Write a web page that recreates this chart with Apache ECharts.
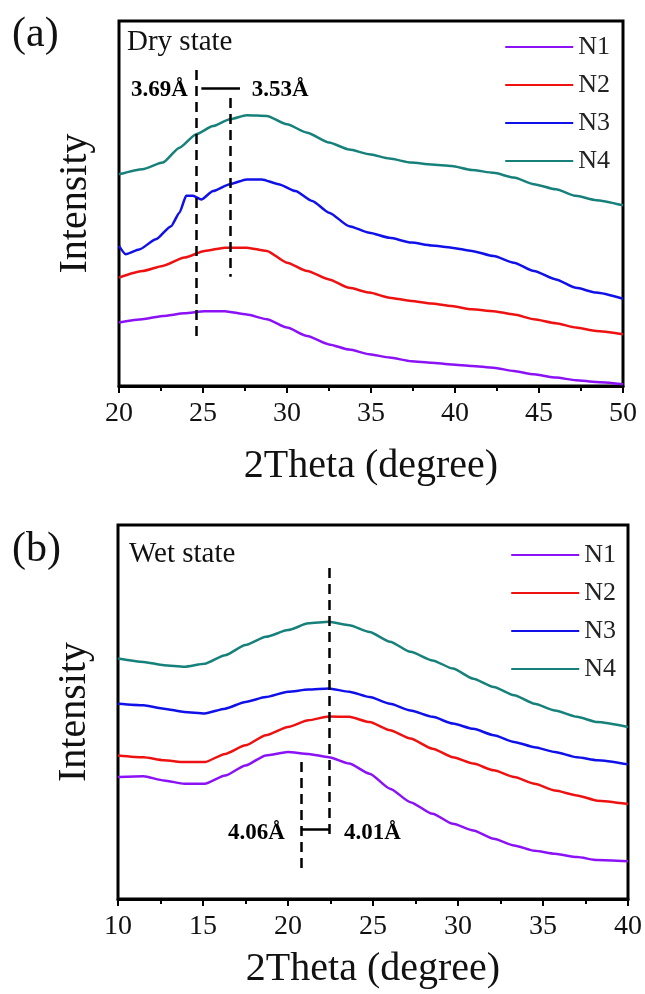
<!DOCTYPE html>
<html>
<head>
<meta charset="utf-8">
<script src="https://cdn.jsdelivr.net/npm/echarts@6/dist/echarts.min.js"></script>
<style>
  html, body { margin: 0; padding: 0; background: #fff; }
  #chart { width: 645px; height: 994px; }
</style>
</head>
<body>
<div id="chart"></div>
<script>
// ---- data (intensity is arbitrary, 0..100) ----
const names = ["N1", "N2", "N3", "N4"];
const colors = ["#8a12f5", "#ee1111", "#1010e8", "#16807a"];

// (a) dry state
const dryX = [20, 21.4, 22.6, 23.9, 25.1, 26.3, 27.6, 28.8, 30, 31.2, 32.5, 33.7, 34.9, 36.1, 37.4, 38.6, 39.8, 41, 42.3, 43.5, 44.7, 46, 47.2, 48.4, 50];
const dryN1 = [17.4, 18.3, 19.2, 19.9, 20.5, 20.5, 19.6, 18.3, 16.0, 13.7, 11.4, 10.0, 8.7, 7.8, 6.8, 6.4, 5.9, 5.5, 5.0, 4.1, 3.2, 2.3, 1.6, 1.1, 0.5];
const dryN2 = [29.7, 31.5, 32.9, 35.2, 37.0, 37.9, 37.9, 37.0, 33.8, 31.5, 29.2, 26.9, 25.6, 24.2, 23.3, 22.6, 21.9, 21.0, 20.5, 19.6, 18.3, 17.2, 16.0, 15.1, 14.2];
const dryN3X = [20, 20.4, 21.2, 22.2, 23.1, 23.6, 24.0, 24.4, 24.9, 25.6, 26.6, 27.6, 28.5, 29.5, 30.5, 31.5, 32.5, 33.7, 34.9, 36.1, 37.4, 38.6, 39.8, 41, 42.3, 43.5, 44.7, 46, 47.2, 48.4, 50];
const dryN3 = [38.4, 36.1, 37.4, 40.2, 43.8, 47.5, 52.1, 52.1, 51.1, 53.4, 55.3, 56.6, 56.6, 55.3, 53.4, 50.7, 47.5, 43.8, 42.0, 40.6, 39.3, 38.5, 37.9, 37.0, 35.6, 33.8, 31.5, 29.2, 26.9, 25.6, 23.9];
const dryN4X = [20, 21.4, 22.6, 23.6, 24.6, 25.6, 26.6, 27.6, 28.8, 30, 31.2, 32.5, 33.7, 34.9, 36.1, 37.4, 38.6, 39.8, 41, 42.3, 43.5, 44.7, 46, 47.2, 48.4, 50];
const dryN4 = [58.0, 59.4, 61.2, 65.3, 69.0, 71.2, 73.1, 74.2, 74.0, 71.7, 69.4, 66.7, 64.8, 63.5, 62.3, 61.2, 60.7, 60.3, 59.2, 58.4, 57.1, 55.3, 53.9, 52.1, 50.9, 49.5];

// (b) wet state
const wetX = [10, 11.5, 12.7, 13.9, 15.1, 16.3, 17.5, 18.7, 20, 21.2, 22.4, 23.6, 24.8, 26, 27.2, 28.5, 29.7, 30.9, 32.1, 33.3, 34.5, 35.7, 37, 38.2, 40];
const wetN1 = [32.6, 32.8, 31.7, 30.8, 30.8, 33.0, 35.7, 38.4, 39.3, 38.8, 37.9, 36.2, 33.5, 29.5, 25.9, 22.8, 20.1, 18.3, 16.1, 14.3, 12.9, 12.1, 11.2, 10.4, 10.1];
const wetN2 = [38.4, 37.9, 37.1, 36.6, 36.6, 38.8, 41.1, 43.8, 46.0, 47.8, 48.8, 48.7, 47.3, 45.1, 42.9, 40.2, 37.9, 36.2, 34.4, 32.6, 30.8, 29.0, 27.7, 26.3, 25.4];
const wetN3 = [52.2, 51.8, 50.9, 50.0, 49.6, 50.9, 52.7, 54.0, 55.4, 56.0, 56.3, 55.4, 54.0, 52.2, 50.4, 48.7, 46.9, 45.5, 43.8, 42.0, 40.6, 39.3, 37.9, 37.1, 36.0];
const wetN4 = [64.3, 63.4, 62.5, 62.1, 62.9, 65.2, 67.9, 70.1, 71.9, 73.7, 74.1, 73.2, 71.4, 68.8, 66.1, 63.8, 61.6, 58.9, 56.7, 54.5, 52.2, 50.4, 48.7, 47.3, 46.0];

const serif = "'Liberation Serif', 'DejaVu Serif', serif";

function pairs(xs, ys) {
  return xs.map((x, i) => [x, ys[i]]);
}

function lineSeries(i, name, xs, ys) {
  return {
    name: name,
    type: "line",
    xAxisIndex: i,
    yAxisIndex: i,
    data: pairs(xs, ys),
    symbol: "none",
    smooth: 0.2,
    smoothMonotone: "x",
    lineStyle: { width: 2.5 },
    color: colors[names.indexOf(name)],
    z: 3,
  };
}

// dashed guide lines + spacing bar + d-spacing labels for one panel
function guideSeries(i, lines, bar, labels) {
  const dashed = { type: [10, 6], width: 2.5, color: "#000" };
  return {
    type: "scatter",
    xAxisIndex: i,
    yAxisIndex: i,
    symbolSize: 0,
    silent: true,
    itemStyle: { opacity: 1 },
    data: labels.map((l) => ({ value: [l[0], l[1]], name: l[2] })),
    label: {
      show: true,
      position: "inside",
      formatter: "{b}",
      fontFamily: serif,
      fontWeight: "bold",
      fontSize: 23,
      color: "#000",
      opacity: 1,
    },
    markLine: {
      silent: true,
      symbol: "none",
      label: { show: false },
      data: lines
        .map((l) => [
          { coord: [l[0], l[1]], lineStyle: dashed },
          { coord: [l[0], l[2]] },
        ])
        .concat([
          [
            { coord: [bar[0], bar[2]], lineStyle: { type: "solid", width: 2.5, color: "#000" } },
            { coord: [bar[1], bar[2]] },
          ],
        ]),
    },
  };
}

function xAxis(i, min, max, labelMargin, nameGap) {
  return {
    gridIndex: i,
    type: "value",
    min: min,
    max: max,
    interval: 5,
    name: "2Theta (degree)",
    nameLocation: "middle",
    nameGap: nameGap,
    nameTextStyle: { fontFamily: serif, fontSize: 40, color: "#111" },
    axisLine: { show: true, onZero: false, lineStyle: { color: "#000", width: 3 } },
    axisTick: { show: true, inside: false, length: 7, lineStyle: { color: "#000", width: 2 } },
    minorTick: { show: true, splitNumber: 2, length: 5, lineStyle: { color: "#000", width: 2 } },
    axisLabel: { fontFamily: serif, fontSize: 28, color: "#111", margin: labelMargin },
    splitLine: { show: false },
  };
}

function yAxis(i) {
  return {
    gridIndex: i,
    type: "value",
    min: 0,
    max: 100,
    name: "Intensity",
    nameLocation: "middle",
    nameGap: 24,
    nameRotate: 90,
    nameTextStyle: { fontFamily: serif, fontSize: 40, color: "#111" },
    axisLine: { show: false },
    axisTick: { show: false },
    axisLabel: { show: false },
    splitLine: { show: false },
  };
}

function legend(top, right) {
  return {
    data: names,
    orient: "vertical",
    top: top,
    right: right,
    itemWidth: 68,
    itemHeight: 12,
    itemGap: 12,
    icon: "path://M0,5 L68,5 L68,7 L0,7 Z",
    textStyle: { fontFamily: serif, fontSize: 26, color: "#222", padding: [0, 0, 0, 0] },
    selectedMode: false,
  };
}

const chart = echarts.init(document.getElementById("chart"));
chart.setOption({
  backgroundColor: "#fff",
  animation: false,
  grid: [
    { left: 119, right: 22, top: 21, height: 365, show: true, borderColor: "#000", borderWidth: 3 },
    { left: 118, right: 16, top: 525, height: 374, show: true, borderColor: "#000", borderWidth: 3 },
  ],
  xAxis: [xAxis(0, 20, 50, 14, 60), xAxis(1, 10, 40, 14, 50)],
  yAxis: [yAxis(0), yAxis(1)],
  legend: [legend(29, 30), legend(537, 24)],
  graphic: [
    { type: "text", left: 12, top: 14, style: { text: "(a)", font: "42px " + serif, fill: "#111" } },
    { type: "text", left: 12, top: 529, style: { text: "(b)", font: "42px " + serif, fill: "#111" } },
    { type: "text", left: 127, top: 28, style: { text: "Dry state", font: "29px " + serif, fill: "#111" } },
    { type: "text", left: 129, top: 540, style: { text: "Wet state", font: "29px " + serif, fill: "#111" } },
  ],
  series: [
    lineSeries(0, "N1", dryX, dryN1),
    lineSeries(0, "N2", dryX, dryN2),
    lineSeries(0, "N3", dryN3X, dryN3),
    lineSeries(0, "N4", dryN4X, dryN4),
    lineSeries(1, "N1", wetX, wetN1),
    lineSeries(1, "N2", wetX, wetN2),
    lineSeries(1, "N3", wetX, wetN3),
    lineSeries(1, "N4", wetX, wetN4),
    guideSeries(
      0,
      [[24.6, 86.6, 12.6], [26.6, 78.9, 29.9]],
      [24.9, 27.2, 81.6],
      [[22.4, 81.1, "3.69Å"], [29.6, 81.1, "3.53Å"]]
    ),
    guideSeries(
      1,
      [[22.45, 88.5, 16.6], [20.75, 36.6, 8.3]],
      [20.75, 22.45, 18.7],
      [[18.15, 17.6, "4.06Å"], [24.97, 17.6, "4.01Å"]]
    ),
  ],
});
</script>
</body>
</html>
